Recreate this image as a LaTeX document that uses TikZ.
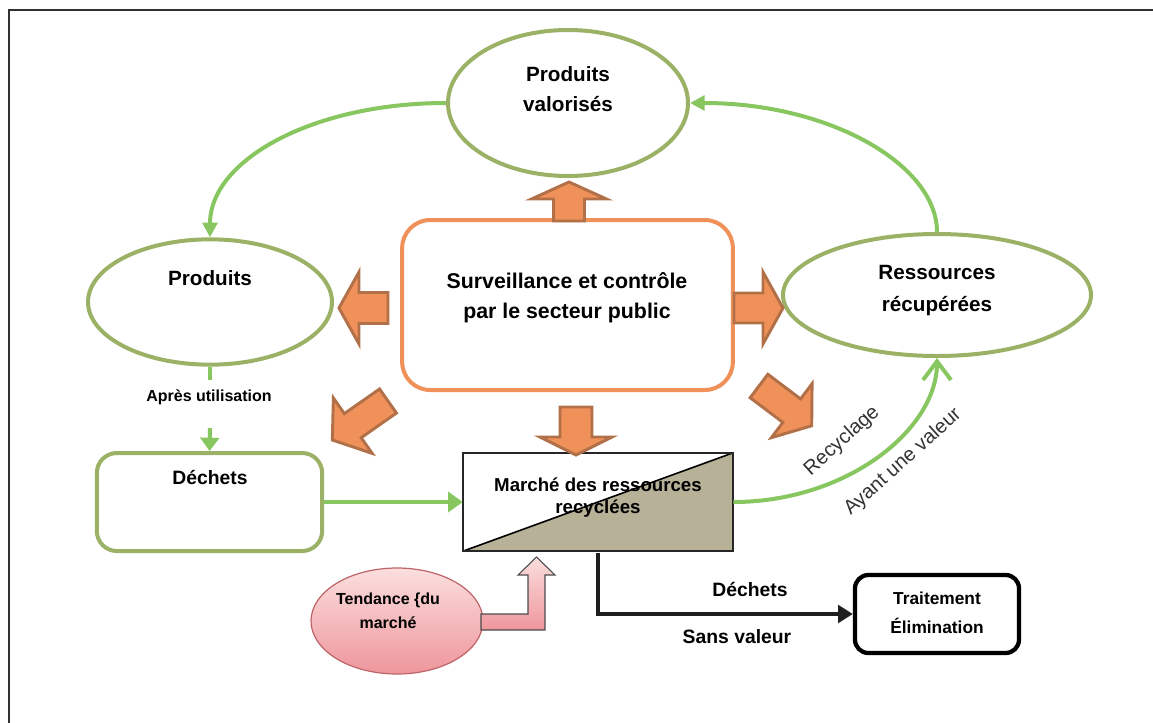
\documentclass[tikz,border=0pt]{standalone}
\usepackage{fontspec}
\setmainfont{Liberation Sans}
\usetikzlibrary{shapes.geometric,arrows.meta,calc}
\definecolor{ellG}{RGB}{155,178,102}
\definecolor{arrG}{RGB}{136,198,96}
\definecolor{orgF}{RGB}{240,145,90}
\definecolor{orgD}{RGB}{178,112,72}
\definecolor{khaki}{RGB}{183,178,151}
\definecolor{pinkL}{RGB}{251,222,222}
\definecolor{pinkD}{RGB}{238,150,156}
\definecolor{pinkB}{RGB}{190,100,105}
\definecolor{frameC}{RGB}{50,50,50}
\newcommand\blockarr[7]{%
  \begin{scope}[shift={(#1,#2)},rotate=#3]
    \path[blockarrow] (0,-#5) -- ({#4-#7},-#5) -- ({#4-#7},-#6) -- (#4,0)
      -- ({#4-#7},#6) -- ({#4-#7},#5) -- (0,#5) -- cycle;
  \end{scope}}
\begin{document}
\begin{tikzpicture}[x=0.75pt,y=-0.75pt,
  ell/.style={ellipse,draw=ellG,line width=3pt,inner sep=0pt,fill=white},
  lbl/.style 2 args={font=\bfseries\fontsize{#1}{#2}\selectfont,align=center,inner sep=0pt},
  garrow/.style={draw=arrG,line width=3pt},
  blockarrow/.style={fill=orgF,draw=orgD,line width=2.2pt,line join=miter},
]
\useasboundingbox (0,0) rectangle (1153,722);
\draw[frameC,line width=2pt] (9,730) -- (9,10) -- (1160,10);

% main shapes
\node[ell,minimum width=180pt,minimum height=109.5pt] (val) at (568,103) {};
\node[ell,minimum width=183pt,minimum height=94pt] (prod) at (210,302) {};
\node[ell,minimum width=231pt,minimum height=91.5pt] (res) at (937,295) {};
\node[draw=orgF,line width=3pt,rounded corners=21pt,minimum width=248pt,minimum height=127.5pt,fill=white] (surv) at (567.5,305) {};
\node[draw=ellG,line width=3pt,rounded corners=15pt,minimum width=169pt,minimum height=73.5pt] (dech) at (209.5,502) {};
\node[minimum width=202.5pt,minimum height=73.5pt,inner sep=0pt] (mar) at (598,502) {};
\fill[khaki] (mar.south west) -- (mar.north east) -- (mar.south east) -- cycle;
\draw[line width=1.2pt] (mar.south west) -- (mar.north east);
\draw[line width=1.6pt,draw=black!85] (mar.south west) rectangle (mar.north east);
\node[draw,line width=3.2pt,rounded corners=10pt,minimum width=123pt,minimum height=58.5pt] (trait) at (937,614) {};
\node[ellipse,draw=pinkB,line width=0.9pt,top color=pinkL,bottom color=pinkD,minimum width=129pt,minimum height=79.5pt,inner sep=0pt] (tend) at (397,621) {};

% texts
\node[lbl={15.5pt}{23pt}] (tval) at (568,89) {Produits\\valorisés};
\node[lbl={15.5pt}{18pt}] (tprod) at (210,278) {Produits};
\node[lbl={15.5pt}{24pt}] (tres) at (937,291) {Ressources\\récupérées};
\node[lbl={16pt}{22.5pt}] (tsurv) at (567,298) {Surveillance et contrôle\\par le secteur public};
\node[lbl={14.5pt}{17pt}] (tdech) at (210,477) {Déchets};
\node[lbl={14pt}{16.5pt}] (tmar) at (598,498) {Marché des ressources\\recyclées};
\node[lbl={13pt}{22pt}] (ttrait) at (937,613) {Traitement\\Élimination};
\node[lbl={12pt}{18pt}] (ttend) at (388,611) {Tendance {\{}du\\marché};
\node[lbl={12pt}{14pt}] (apres) at (209,397) {Après utilisation};
\node[lbl={14.5pt}{17pt}] (ldech) at (750,589) {Déchets};
\node[lbl={14.5pt}{17pt}] (lsans) at (737,637) {Sans valeur};
\node[font=\fontsize{15pt}{18pt}\selectfont,text=black!80,rotate=42,inner sep=0pt] (lrec) at (842,441) {Recyclage};
\node[font=\fontsize{15pt}{18pt}\selectfont,text=black!80,rotate=42,inner sep=0pt] (lval) at (903,462) {Ayant une valeur};

% orange block arrows
\blockarr{569}{221}{90}{39}{15.5}{37.5}{17}
\blockarr{388}{308}{180}{49}{15.5}{36}{20}
\blockarr{734}{308}{0}{49}{15}{36}{20}
\blockarr{576}{407}{-90}{48}{16}{36}{18}
\blockarr{388}{401}{215}{68}{14.7}{33.8}{25}
\blockarr{759}{386}{-37}{66}{14.7}{33.8}{25}

% pink bent arrow
\path[draw=black!70,line width=0.8pt,top color=pinkL,bottom color=pinkD,line join=miter]
  (481,614) -- (528,614) -- (528,575) -- (518,575) -- (536.5,557) -- (555,575)
  -- (545,575) -- (545,630) -- (481,630) -- cycle;

% green connectors
\draw[garrow,-{Triangle[length=11pt,width=11pt]}] (val.west) .. controls (313,103) and (210,160) .. (prod.north);
\draw[garrow,-{Triangle[length=11pt,width=11pt]}] (res.north) .. controls (937,165) and (830,103) .. (val.east);
\draw[garrow,-{Straight Barb[length=14pt,width=21pt]}] (mar.east) .. controls (846,502) and (937,430) .. (res.south);
\coordinate (a0) at (210,380);
\coordinate (a1) at (210,428);
\draw[garrow] (prod.south) -- (a0);
\draw[garrow,-{Triangle[length=10pt,width=14pt]}] (a1) -- (dech.north);
\draw[garrow,-{Triangle[length=11pt,width=15pt]}] (dech.east) -- (mar.west);

% black connector
\draw[line width=3.5pt,draw=black!88,-{Triangle[length=11pt,width=13pt]}] ($(mar.south)+(0,2)$) |- (trait.west);
\end{tikzpicture}
\end{document}
